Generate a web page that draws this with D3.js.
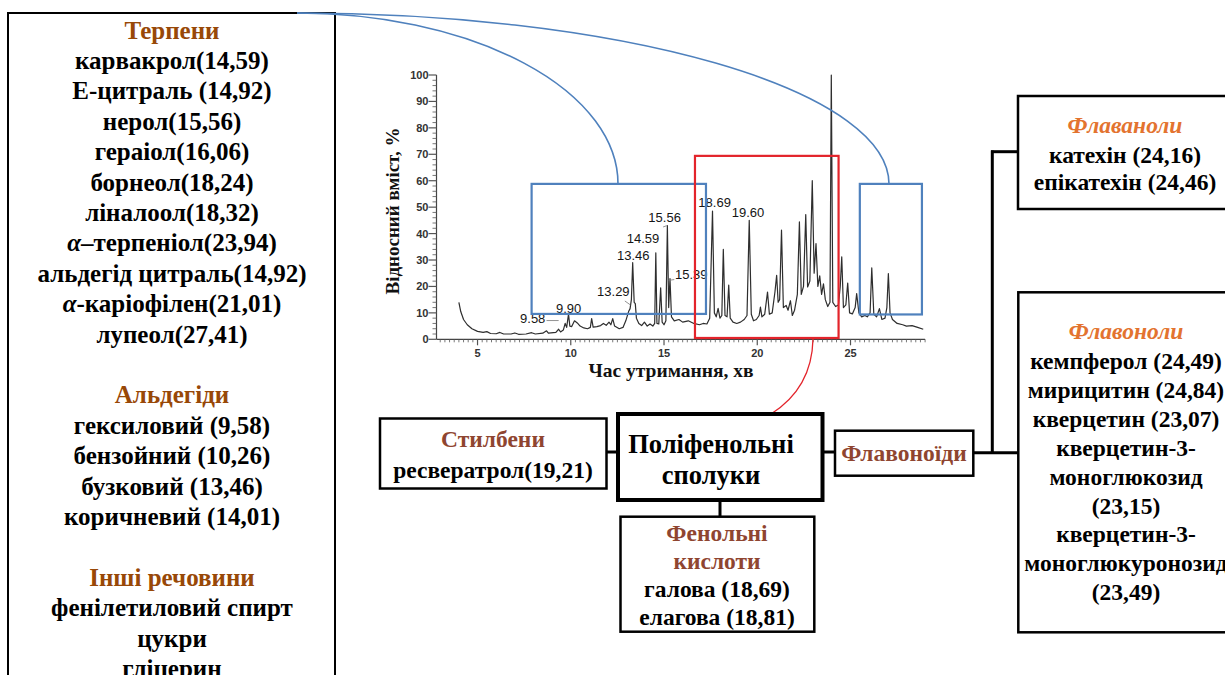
<!DOCTYPE html>
<html><head><meta charset="utf-8">
<script src="https://cdn.jsdelivr.net/npm/d3@7"></script>
<style>body{margin:0;background:#fff}svg{display:block}</style>
</head><body>
<svg id="c" width="1225" height="675"></svg>
<script>
// ---- chromatogram data (retention time, min ; relative content, %) ----
const traceTime = [4.00,4.10,4.25,4.45,4.70,5.00,5.30,5.50,5.70,6.00,6.20,6.40,6.80,7.00,7.20,7.60,7.90,8.10,8.50,8.70,8.80,9.20,9.35,9.45,9.60,9.70,9.78,9.88,9.95,10.05,10.20,10.35,10.50,10.70,10.90,11.05,11.12,11.20,11.40,11.60,11.75,11.90,12.05,12.15,12.25,12.35,12.60,12.80,12.95,13.10,13.18,13.25,13.32,13.40,13.46,13.52,13.65,13.80,13.95,14.10,14.25,14.40,14.50,14.56,14.62,14.72,14.82,14.90,15.00,15.10,15.18,15.25,15.32,15.40,15.55,15.80,16.00,16.30,16.60,16.90,17.10,17.30,17.45,17.60,17.70,17.80,17.90,18.00,18.10,18.18,18.27,18.38,18.47,18.55,18.70,18.90,19.10,19.30,19.45,19.57,19.68,19.80,19.95,20.10,20.17,20.25,20.40,20.55,20.65,20.80,20.95,21.04,21.12,21.20,21.30,21.40,21.55,21.65,21.78,21.88,22.00,22.15,22.26,22.36,22.48,22.60,22.70,22.82,22.95,23.05,23.15,23.25,23.35,23.45,23.55,23.65,23.78,23.90,23.97,24.05,24.20,24.35,24.45,24.53,24.62,24.75,24.85,24.95,25.10,25.25,25.33,25.45,25.60,25.77,25.90,26.05,26.14,26.25,26.40,26.55,26.68,26.85,26.95,27.03,27.12,27.25,27.50,27.80,28.00,28.30,28.60,28.90];
const traceValue = [14.0,10.5,7.5,5.5,4.0,3.0,2.6,2.9,2.2,2.1,2.6,2.0,2.0,2.4,1.9,2.0,2.5,2.0,2.3,3.2,2.3,2.6,3.8,2.8,3.5,6.0,4.5,9.5,5.0,4.8,7.0,6.2,5.0,4.3,4.0,4.5,7.8,4.6,4.8,5.2,6.0,5.3,6.5,5.5,7.8,5.0,4.0,4.5,7.0,10.5,11.6,15.0,29.0,14.0,13.5,8.0,6.0,5.2,6.5,5.0,5.8,5.0,6.0,32.7,6.0,5.8,19.5,6.5,5.5,7.0,43.0,12.0,23.0,8.5,7.0,7.5,6.5,7.0,6.0,5.5,6.0,5.8,8.0,48.5,10.0,8.5,11.7,8.0,9.0,34.0,9.0,8.5,20.5,8.0,6.5,6.0,6.5,7.5,9.0,45.0,9.5,7.0,7.5,9.0,12.2,8.5,9.5,17.9,9.5,10.0,18.0,24.2,14.0,15.0,41.3,12.0,12.8,11.0,14.6,9.0,11.0,17.0,44.4,17.0,20.0,47.2,19.8,22.0,60.0,25.0,36.2,20.0,24.0,17.0,21.0,15.0,12.4,14.0,100.0,14.0,12.4,13.0,20.0,31.2,12.0,13.0,21.3,10.0,9.6,12.0,17.3,10.0,8.5,9.0,8.5,10.0,27.0,9.5,8.5,11.6,7.5,8.0,12.0,24.9,10.0,7.5,6.0,5.5,5.0,5.2,4.5,3.8];
const xTicks = [5,10,15,20,25];
const yTicks = [0,10,20,30,40,50,60,70,80,90,100];
const peakLabels = ["9.58","9.90","13.29","13.46","14.59","15.56","15.39","18.69","19.60"];
const peakLabelTime = [7.28,9.21,11.41,12.48,13.00,14.16,15.59,16.84,18.63];
const peakLabelValue = [6.2,10.1,16.4,30.0,36.6,44.2,22.8,50.2,46.3];
const xTitle = "Час утримання, хв";
const yTitle = "Відносний вміст, %";

// ---- compound lists ----
const terpenes = ["карвакрол(14,59)","Е-цитраль (14,92)","нерол(15,56)","гераіол(16,06)","борнеол(18,24)","ліналоол(18,32)","α–терпеніол(23,94)","альдегід цитраль(14,92)","α-каріофілен(21,01)","лупеол(27,41)"];
const aldehydes = ["гексиловий (9,58)","бензойний (10,26)","бузковий (13,46)","коричневий (14,01)"];
const others = ["фенілетиловий спирт","цукри","гліцерин"];
const stilbenes = ["ресвератрол(19,21)"];
const phenolicAcids = ["галова (18,69)","елагова (18,81)"];
const flavanols = ["катехін (24,16)","епікатехін (24,46)"];
const flavonols = ["кемпферол (24,49)","мирицитин (24,84)","кверцетин (23,07)","кверцетин-3-","моноглюкозид","(23,15)","кверцетин-3-","моноглюкуронозид","(23,49)"];

const svg = d3.select("#c");
const SERIF = "'Liberation Serif','Times New Roman',serif";
const SANS = "'Liberation Sans',Arial,sans-serif";
const HEAD = "#984807", HEAD2 = "#8f4530", ORANGE = "#e3732f", BLUE = "#4f81bd", RED = "#e3242b";

const x = d3.scaleLinear().domain([2.8, 29]).range([436.5, 925.1]);
const y = d3.scaleLinear().domain([0, 100]).range([339.3, 75]);

// ---- left box ----
svg.append("rect").attr("x",8).attr("y",13).attr("width",327).attr("height",720)
  .attr("fill","none").attr("stroke","#000").attr("stroke-width",2);
const leftLines = [];
leftLines.push({t:"Терпени",h:true});
terpenes.forEach(t=>leftLines.push({t}));
leftLines.push(null);
leftLines.push({t:"Альдегіди",h:true});
aldehydes.forEach(t=>leftLines.push({t}));
leftLines.push(null);
leftLines.push({t:"Інші речовини",h:true});
others.forEach(t=>leftLines.push({t}));
leftLines.forEach((l,i)=>{
  if(!l) return;
  const tx = svg.append("text").attr("x",172).attr("y",38.5+i*30.4)
    .attr("text-anchor","middle").attr("font-family",SERIF).attr("font-weight","bold")
    .attr("font-size",25).attr("fill",l.h?HEAD:"#000");
  if(l.t.startsWith("α")){
    tx.append("tspan").attr("font-style","italic").text("α");
    tx.append("tspan").text(l.t.slice(1));
  } else tx.text(l.t);
});

// ---- chromatogram axes ----
const g = svg.append("g");
g.append("line").attr("x1",x(2.8)).attr("x2",x(29)).attr("y1",y(0)).attr("y2",y(0)).attr("stroke","#444").attr("stroke-width",1.2);
g.append("line").attr("x1",x(2.8)).attr("x2",x(2.8)).attr("y1",y(0)).attr("y2",y(100)).attr("stroke","#444").attr("stroke-width",1.2);
d3.range(3,29.01,0.25).forEach(t=>{
  const major = xTicks.includes(t);
  g.append("line").attr("x1",x(t)).attr("x2",x(t)).attr("y1",y(0)).attr("y2",y(0)+(major?6:3)).attr("stroke","#555").attr("stroke-width",major?1.2:0.8);
});
d3.range(0,100.01,2).forEach(v=>{
  const major = yTicks.includes(v);
  g.append("line").attr("x1",x(2.8)-(major?8:4)).attr("x2",x(2.8)).attr("y1",y(v)).attr("y2",y(v)).attr("stroke","#555").attr("stroke-width",major?1.2:0.8);
});
xTicks.forEach(t=>g.append("text").attr("x",x(t)).attr("y",y(0)+18).attr("text-anchor","middle")
  .attr("font-family",SANS).attr("font-weight","bold").attr("font-size",11).attr("fill","#333").text(t));
yTicks.forEach(v=>g.append("text").attr("x",x(2.8)-8).attr("y",y(v)+4).attr("text-anchor","end")
  .attr("font-family",SANS).attr("font-weight","bold").attr("font-size",11).attr("fill","#333").text(v));
g.append("text").attr("x",671).attr("y",377).attr("text-anchor","middle").attr("font-family",SERIF)
  .attr("font-weight","bold").attr("font-size",19.5).attr("fill","#111").text(xTitle);
g.append("text").attr("transform","translate(398.5,211) rotate(-90)").attr("text-anchor","middle").attr("font-family",SERIF)
  .attr("font-weight","bold").attr("font-size",19).attr("fill","#111").text(yTitle);

// trace
const pts = traceTime.map((t,i)=>[t,traceValue[i]]);
g.append("path").attr("d",d3.line().x(d=>x(d[0])).y(d=>y(d[1]))(pts))
  .attr("fill","none").attr("stroke","#2e2e2e").attr("stroke-width",1.2).attr("stroke-linejoin","round");

// peak labels
peakLabels.forEach((s,i)=>g.append("text").attr("x",x(peakLabelTime[i])).attr("y",y(peakLabelValue[i]))
  .attr("font-family",SANS).attr("font-size",13).attr("fill","#151515").text(s));
// leader lines
[[x(8.7),y(7.1),x(9.35),y(7.1)],[x(12.9),y(14.5),x(13.2),y(13)],[x(15.25),y(22.3),x(15.55),y(22.6)],[x(14.95),y(42.5),x(15.15),y(43)]]
  .forEach(a=>g.append("line").attr("x1",a[0]).attr("y1",a[1]).attr("x2",a[2]).attr("y2",a[3]).attr("stroke","#777").attr("stroke-width",0.8));

// zoom boxes
const box = (t0,t1,v0,v1,c)=>svg.append("rect").attr("x",x(t0)).attr("y",y(v1)).attr("width",x(t1)-x(t0)).attr("height",y(v0)-y(v1))
  .attr("fill","none").attr("stroke",c).attr("stroke-width",2.2);
box(7.9,17.25,9.6,58.8,BLUE);
box(25.5,28.83,9.4,58.8,BLUE);
box(16.66,24.36,0.5,69.4,RED);

// blue arcs from the terpene box
svg.append("path").attr("d","M297,13 A321,171 0 0 1 618,184").attr("fill","none").attr("stroke",BLUE).attr("stroke-width",1.6);
svg.append("path").attr("d","M297,13 A592,171 0 0 1 889,184").attr("fill","none").attr("stroke",BLUE).attr("stroke-width",1.6);
// red connector
svg.append("path").attr("d","M813,339 Q812,388 771,414").attr("fill","none").attr("stroke",RED).attr("stroke-width",1.3);

// ---- connectors ----
const conn = (x1,y1,x2,y2)=>svg.append("line").attr("x1",x1).attr("y1",y1).attr("x2",x2).attr("y2",y2).attr("stroke","#000").attr("stroke-width",3);
conn(606,452,619,452);
conn(720,500,720,517);
conn(822,452,835,452);
conn(973,452.7,1018,452.7);
conn(992.3,150.5,992.3,454);
conn(991,151.7,1018,151.7);

// ---- boxes ----
const rbox = (x0,y0,w,h,sw)=>svg.append("rect").attr("x",x0).attr("y",y0).attr("width",w).attr("height",h).attr("fill","#fff").attr("stroke","#000").attr("stroke-width",sw);
const txt = (s,cx,cy,opt)=>{
  opt = opt||{};
  return svg.append("text").attr("x",cx).attr("y",cy).attr("text-anchor","middle").attr("font-family",SERIF)
    .attr("font-weight","bold").attr("font-size",opt.size||23.5).attr("font-style",opt.italic?"italic":null)
    .attr("fill",opt.color||"#000").text(s);
};
rbox(380,418.5,226.5,70,2.5);
txt("Стилбени",493,447,{color:HEAD2});
stilbenes.forEach((s,i)=>txt(s,493,478+i*28));

rbox(618,414,204.5,86,4);
txt("Поліфенольні",711,453,{size:26.5});
txt("сполуки",711,484,{size:26.5});

rbox(620.5,516.7,193.8,115,2.5);
txt("Фенольні",717,541,{color:HEAD2});
txt("кислоти",717,569,{color:HEAD2});
phenolicAcids.forEach((s,i)=>txt(s,717,597+i*28,{}));

rbox(835,430.7,138.3,45,2.5);
txt("Флавоноїди",904,461,{color:HEAD2});

rbox(1018,96,230,113,2.5);
txt("Флаваноли",1125,133,{italic:true,color:ORANGE});
flavanols.forEach((s,i)=>txt(s,1125,163+i*27,{}));

rbox(1018.3,292.3,230,340,2.5);
txt("Флавоноли",1126,339,{italic:true,color:ORANGE});
flavonols.forEach((s,i)=>txt(s,1126,369+i*28.9,{}));
</script>
</body></html>
